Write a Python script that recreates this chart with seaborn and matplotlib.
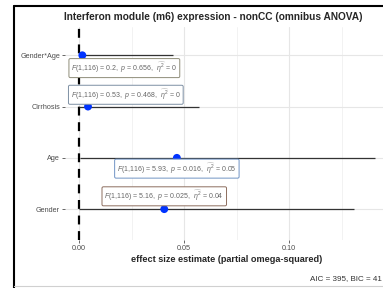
import numpy as np
import pandas as pd
import matplotlib
matplotlib.use('Agg')
import matplotlib.pyplot as plt
from matplotlib.lines import Line2D
import seaborn as sns

# ── Data ───────────────────────────────────────────────────────────────────
terms     = ['Gender', 'Age', 'Cirrhosis', 'Gender*Age']
estimate  = [0.0405, 0.0465, 0.0042, 0.0015]
ci_low    = [0.0, 0.0005, 0.0, 0.0]
ci_high   = [0.131, 0.141, 0.057, 0.0448]
labels    = [
    r'$F$(1,116) = 5.16,  $p$ = 0.025,  $\widehat{\eta^2}$ = 0.04',
    r'$F$(1,116) = 5.93,  $p$ = 0.016,  $\widehat{\eta^2}$ = 0.05',
    r'$F$(1,116) = 0.53,  $p$ = 0.468,  $\widehat{\eta^2}$ = 0',
    r'$F$(1,116) = 0.2,  $p$ = 0.656,  $\widehat{\eta^2}$ = 0',
]
label_colors = ['#8c6d5e', '#6f93c4', '#7d8fa3', '#8e8c78']
x_ticks = [0.00, 0.05, 0.10]

df = pd.DataFrame({'term': terms, 'estimate': estimate,
                   'ci_low': ci_low, 'ci_high': ci_high})
df['pos'] = np.arange(len(df))

sns.set_theme(style='white')
plt.rcParams['font.family'] = ['Liberation Sans', 'DejaVu Sans']
plt.rcParams['mathtext.fontset'] = 'custom'
plt.rcParams['mathtext.rm'] = 'Liberation Sans'
plt.rcParams['mathtext.it'] = 'Liberation Sans:italic'

fig = plt.figure(figsize=(3.83, 2.88), dpi=100)
ax = fig.add_axes([0.170, 0.167, 0.843, 0.739])

# grid
ax.set_xticks(x_ticks)
ax.set_xticks([0.025, 0.075, 0.125], minor=True)
ax.grid(True, which='major', color='#e6e6e6', linewidth=0.8)
ax.grid(True, which='minor', axis='x', color='#f0f0f0', linewidth=0.6)
ax.set_axisbelow(True)

# zero line
ax.axvline(0, color='black', linestyle=(0, (4, 3)), linewidth=1.6, zorder=1)

# confidence intervals
ax.hlines(df['pos'], df['ci_low'], df['ci_high'], color='#333333',
          linewidth=0.9, zorder=2)

# estimates
sns.scatterplot(data=df, x='estimate', y='pos', color='#0033ff', s=32,
                edgecolor='none', zorder=3, ax=ax, legend=False)

# label boxes (offsets chosen to mimic ggrepel placement)
label_dx = [0.0, 0.0, 0.018, 0.020]
label_dy = [0.25, -0.21, 0.23, -0.25]
for i, row in df.iterrows():
    ax.text(row['estimate'] + label_dx[i], row['pos'] + label_dy[i], labels[i],
            ha='center', va='center', fontsize=5.0, color='#666666', zorder=4,
            bbox=dict(boxstyle='round,pad=0.35,rounding_size=0.2',
                      facecolor='white', edgecolor=label_colors[i],
                      linewidth=0.7))

ax.set_xlim(-0.0067, 0.147)
ax.set_ylim(-0.6, 3.55)
ax.set_yticks(df['pos'])
ax.set_yticklabels(df['term'])
ax.set_xticklabels(['0.00', '0.05', '0.10'])
ax.tick_params(axis='both', labelsize=5.2, labelcolor='#4d4d4d', length=2,
               width=0.6, color='#4d4d4d', pad=1.5)
ax.tick_params(axis='x', which='minor', length=0)
ax.tick_params(left=True, bottom=True)
for s in ax.spines.values():
    s.set_visible(False)

ax.set_xlabel('effect size estimate (partial omega-squared)', fontsize=6.6,
              fontweight='bold', labelpad=2)
ax.set_ylabel('')
fig.text(213 / 383, 1 - 17 / 288,
         'Interferon module (m6) expression - nonCC (omnibus ANOVA)',
         ha='center', va='center', fontsize=7.3, fontweight='bold')
# caption as visible in the (cropped) reference
fig.text(382 / 383, 1 - 279 / 288, 'AIC = 395, BIC = 41',
         ha='right', va='center', fontsize=5.8, color='#333333')

# frame of the cropped screenshot
fig.add_artist(Line2D([14 / 383, 14 / 383], [0, 1 - 6 / 288],
                      color='black', linewidth=1.5))
fig.add_artist(Line2D([14 / 383, 1], [1 - 6 / 288, 1 - 6 / 288],
                      color='black', linewidth=1.5))
fig.add_artist(Line2D([14 / 383, 1], [1 - 286 / 288, 1 - 286 / 288],
                      color='#d0d0d0', linewidth=0.8))

fig.savefig('out.png', dpi=100)
